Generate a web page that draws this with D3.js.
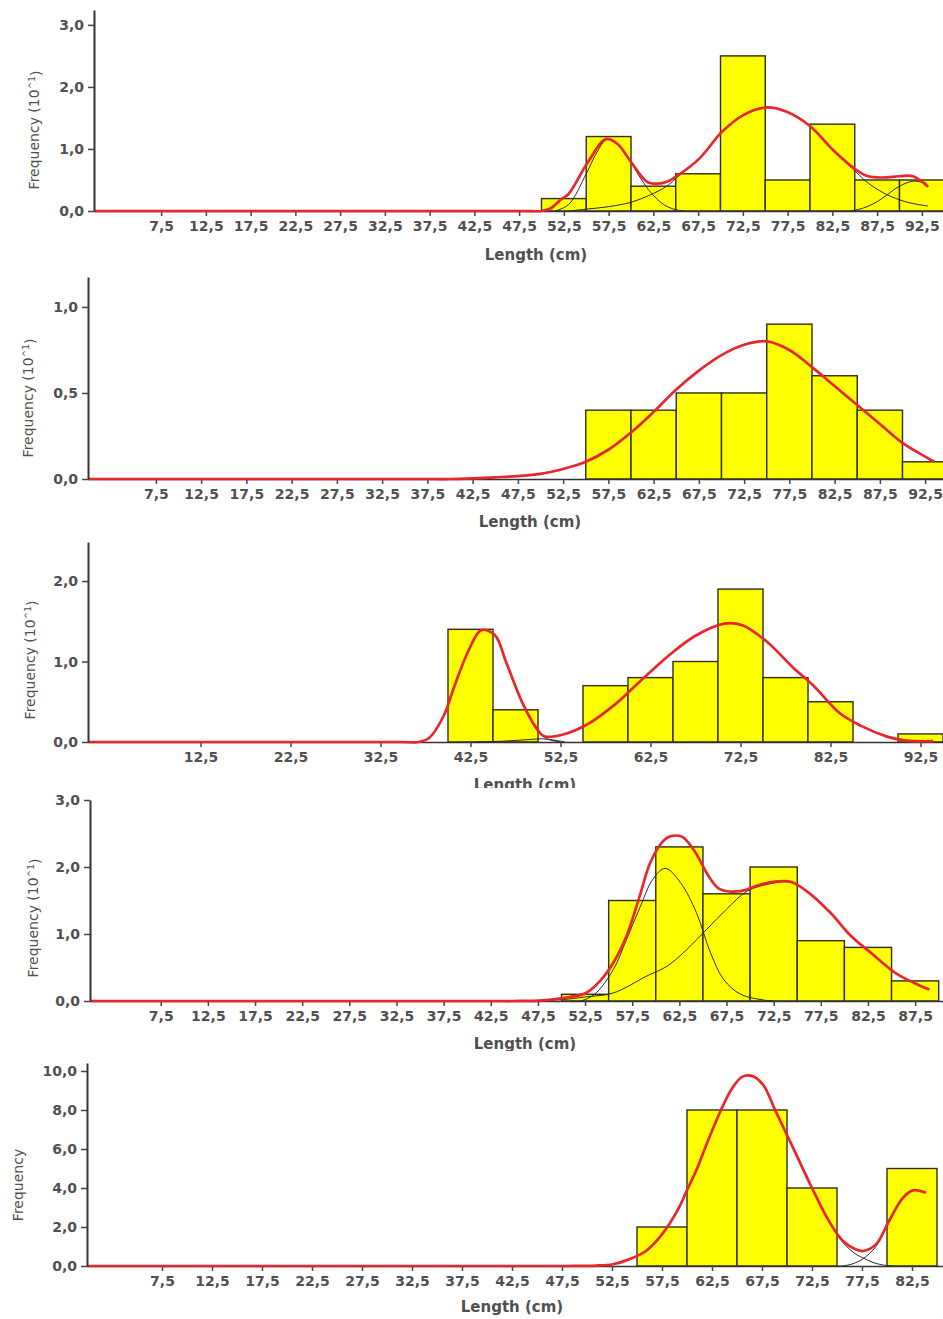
<!DOCTYPE html>
<html lang="en">
<head>
<meta charset="UTF-8">
<title>Length frequency histograms</title>
<script src="https://cdn.jsdelivr.net/npm/d3@7"></script>
<style>
  body { margin: 0; background: #fff; }
  text { font-family: "DejaVu Sans", sans-serif; fill: #505050; font-weight: bold; }
  .tick text { font-size: 14px; }
</style>
</head>
<body>
<svg id="chart" width="943" height="1319"></svg>
<script>
// ---- data (bin centres in cm, bin width 5) ----
const p1Bins = [52.5, 57.5, 62.5, 67.5, 72.5, 77.5, 82.5, 87.5, 92.5];
const p1Freq = [0.2, 1.2, 0.4, 0.6, 2.5, 0.5, 1.4, 0.5, 0.5];
const p1Fit = [[0,0],[25,0],[48,0],[50,0],[51,0.04],[52.2,0.19],[53,0.27],[55.2,0.79],[57.2,1.16],[58.5,1.08],[60,0.79],[61.8,0.47],[63,0.44],[64,0.47],[65.2,0.57],[67.6,0.84],[70.2,1.28],[72.6,1.55],[75.2,1.67],[77.4,1.6],[80,1.37],[82.6,0.98],[85.2,0.66],[86.5,0.56],[88.1,0.54],[90,0.56],[91.5,0.56],[93.2,0.39]];
const p1CompA = [[51.5,0],[53,0.1],[55,0.6],[56.2,0.95],[57.3,1.15],[58.5,1.08],[60,0.78],[61.2,0.5],[62.2,0.3],[63.7,0.1],[65,0.02],[66,0]];
const p1CompB = [[53,0],[55,0.03],[57.5,0.07],[60,0.14],[62,0.25],[64,0.4],[65.2,0.55],[67.6,0.84],[70.2,1.28],[72.6,1.55],[75.2,1.67],[77.4,1.6],[80,1.37],[82.6,0.98],[85.2,0.62],[86.5,0.45],[88.1,0.3],[90,0.18],[91.5,0.12],[93.2,0.08]];
const p1CompC = [[84.5,0],[86,0.05],[87.5,0.15],[88.5,0.25],[90,0.4],[91.5,0.48],[93,0.45]];

const p2Bins = [57.5, 62.5, 67.5, 72.5, 77.5, 82.5, 87.5, 92.5];
const p2Freq = [0.4, 0.4, 0.5, 0.5, 0.9, 0.6, 0.4, 0.1];
const p2Fit = [[0,0],[20,0],[38,0],[40,0],[42.5,0.004],[45,0.01],[47.5,0.017],[50,0.03],[52.5,0.058],[55,0.1],[57.5,0.17],[60,0.27],[62.5,0.39],[65,0.52],[67.5,0.63],[70,0.72],[72.5,0.78],[75,0.8],[77.5,0.75],[80,0.65],[82.5,0.54],[85,0.43],[87.5,0.32],[90,0.21],[92.5,0.13],[93.5,0.1]];

const p3Bins = [42.5, 47.5, 57.5, 62.5, 67.5, 72.5, 77.5, 82.5, 92.5];
const p3Freq = [1.4, 0.4, 0.7, 0.8, 1.0, 1.9, 0.8, 0.5, 0.1];
const p3Fit = [[0,0],[20,0],[35,0],[36.7,0],[37.9,0.05],[39.5,0.32],[40.7,0.69],[42.3,1.14],[43.7,1.39],[45.2,1.33],[46.5,0.98],[48.3,0.48],[49.9,0.16],[50.7,0.07],[52.7,0.09],[55.5,0.22],[58.7,0.48],[61.5,0.77],[64.7,1.09],[67.5,1.32],[70.7,1.47],[72.7,1.45],[75.5,1.24],[78.3,0.93],[80.7,0.69],[83.5,0.36],[85.9,0.2],[88.7,0.07],[90.7,0.02],[93.9,0.01]];
const p3CompA = [[35,0],[36.7,0],[37.9,0.05],[39.5,0.32],[40.7,0.69],[42.3,1.14],[43.7,1.39],[45.2,1.33],[46.5,0.98],[48.3,0.48],[49.9,0.15],[51,0.04],[52.5,0]];
const p3CompB = [[43,0],[46,0.01],[49,0.03],[50.5,0.04],[52,0.02],[53,0]];

const p4Bins = [52.5, 57.5, 62.5, 67.5, 72.5, 77.5, 82.5, 87.5];
const p4Freq = [0.1, 1.5, 2.3, 1.6, 2.0, 0.9, 0.8, 0.3];
const p4Fit = [[0,0],[25,0],[43,0],[45,0],[48,0.01],[50.5,0.05],[52.6,0.12],[54.1,0.3],[55.5,0.57],[56.9,0.97],[58.3,1.57],[59.4,2.06],[60.8,2.39],[61.6,2.46],[62.8,2.45],[64,2.26],[65.8,1.82],[66.8,1.67],[69,1.64],[70.7,1.72],[72.5,1.78],[74.3,1.78],[76,1.64],[78.5,1.32],[80.7,0.97],[82.8,0.72],[85.6,0.4],[87.4,0.27],[89,0.17]];
const p4CompA = [[51,0],[52,0],[53.5,0.1],[55.5,0.47],[56.9,0.92],[58.3,1.39],[59.7,1.82],[61,1.98],[62.6,1.77],[64.3,1.32],[65.8,0.72],[67.2,0.32],[69,0.1],[71.4,0.015],[72.5,0]];
const p4CompB = [[43,0],[45,0],[50,0.02],[52.5,0.06],[55.5,0.12],[59,0.37],[61.2,0.52],[63.3,0.77],[65.4,1.07],[67.5,1.37],[69.7,1.64],[72.5,1.76],[74.3,1.77],[76,1.64],[78.5,1.32],[80.7,0.97],[82.8,0.72],[85.6,0.4],[87.4,0.27],[89,0.17]];

const p5Bins = [57.5, 62.5, 67.5, 72.5, 82.5];
const p5Freq = [2, 8, 8, 4, 5];
const p5Fit = [[0,0],[25,0],[46,0],[48,0],[50.9,0.02],[52.6,0.09],[54.2,0.34],[55.9,0.77],[57.5,1.62],[59.2,2.99],[60,3.9],[60.9,4.87],[62,6.3],[63.4,8.0],[64.5,9.1],[65.5,9.7],[66.5,9.75],[67.6,9.3],[68.9,7.9],[70.6,6.07],[72.5,4.0],[74.2,2.3],[75.6,1.28],[76.9,0.85],[77.6,0.77],[78.9,1.11],[80.2,2.31],[81.6,3.5],[82.6,3.88],[83.9,3.76]];
const p5CompA = [[45,0],[47,0],[50.9,0.02],[52.6,0.09],[54.2,0.34],[55.9,0.77],[57.5,1.62],[59.2,2.99],[60.9,4.87],[62,6.3],[63.4,8.0],[64.5,9.1],[65.5,9.7],[66.5,9.75],[67.6,9.3],[68.9,7.9],[70.6,6.07],[72.5,4.0],[74.2,2.3],[75.6,1.2],[76.9,0.6],[77.6,0.42],[78.5,0.2],[79.5,0.06],[80.5,0]];
const p5CompB = [[75,0],[75.5,0],[76.5,0.1],[77.6,0.37],[78.9,1.0],[80.2,2.25],[81.6,3.5],[82.6,3.88],[83.9,3.76]];

// tick values
const xTicksFine = [7.5,12.5,17.5,22.5,27.5,32.5,37.5,42.5,47.5,52.5,57.5,62.5,67.5,72.5,77.5,82.5,87.5,92.5];
const xTicksCoarse = [12.5,22.5,32.5,42.5,52.5,62.5,72.5,82.5,92.5];
const yTicks1 = [0, 1, 2, 3];
const yTicks2 = [0, 0.5, 1];
const yTicks3 = [0, 1, 2];
const yTicks4 = [0, 1, 2, 3];
const yTicks5 = [0, 2, 4, 6, 8, 10];

// ---- layout ----
const panels = [
  { bins: p1Bins, freq: p1Freq, fit: p1Fit, comps: [p1CompA, p1CompB, p1CompC],
    left: 94, pxCm: 8.95, base: 211, top: 10, yMax: 3.24,
    xTicks: xTicksFine, yTicks: yTicks1, yTitle: "Frequency (10", sup: true,
    titleX: 39, titleY: 130, labelX: 536, labelY: 260 },
  { bins: p2Bins, freq: p2Freq, fit: p2Fit, comps: [p2Fit.filter(d => d[0] >= 40)],
    left: 88, pxCm: 9.05, base: 479, top: 277, yMax: 1.174,
    xTicks: xTicksFine, yTicks: yTicks2, yTitle: "Frequency (10", sup: true,
    titleX: 33, titleY: 398, labelX: 530, labelY: 527 },
  { bins: p3Bins, freq: p3Freq, fit: p3Fit, comps: [p3CompA, p3CompB],
    left: 88, pxCm: 9.0, base: 742, top: 542, yMax: 2.485,
    xTicks: xTicksCoarse, yTicks: yTicks3, yTitle: "Frequency (10", sup: true,
    titleX: 35, titleY: 660, labelX: 525, labelY: 790 },
  { bins: p4Bins, freq: p4Freq, fit: p4Fit, comps: [p4CompA, p4CompB],
    left: 90, pxCm: 9.43, base: 1001, top: 800, yMax: 3.0,
    xTicks: xTicksFine.filter(t => t <= 87.5), yTicks: yTicks4, yTitle: "Frequency (10", sup: true,
    titleX: 38, titleY: 918, labelX: 525, labelY: 1049 },
  { bins: p5Bins, freq: p5Freq, fit: p5Fit, comps: [p5CompA, p5CompB],
    left: 87, pxCm: 10.0, base: 1266, top: 1063, yMax: 10.41,
    xTicks: xTicksFine.filter(t => t <= 82.5), yTicks: yTicks5, yTitle: "Frequency", sup: false,
    titleX: 23, titleY: 1185, labelX: 512, labelY: 1312 }
];

const svg = d3.select("#chart");
const comma = d => d3.format(".1f")(d).replace(".", ",");

panels.forEach(p => {
  const g = svg.append("g");
  // white backdrop so the panel above gets cut like in the source
  g.append("rect").attr("x", 0).attr("y", p.top - 12).attr("width", 943)
    .attr("height", p.base - p.top + 70).attr("fill", "#fff");

  const x = d3.scaleLinear().domain([0, 95]).range([p.left, p.left + 95 * p.pxCm]);
  const y = d3.scaleLinear().domain([0, p.yMax]).range([p.base, p.top]);

  // bars
  g.selectAll("rect.bar").data(p.bins).join("rect")
    .attr("class", "bar")
    .attr("x", d => x(d - 2.5))
    .attr("width", d => x(d + 2.5) - x(d - 2.5))
    .attr("y", (d, i) => y(p.freq[i]))
    .attr("height", (d, i) => y(0) - y(p.freq[i]))
    .attr("fill", "#ffff00")
    .attr("stroke", "#2e2e1a")
    .attr("stroke-width", 1.4);

  // x axis
  const xa = g.append("g").attr("transform", `translate(0,${p.base})`)
    .call(d3.axisBottom(x).tickValues(p.xTicks).tickSize(5).tickSizeOuter(0)
      .tickPadding(5).tickFormat(comma));
  xa.select(".domain").attr("stroke", "#333").attr("stroke-width", 1.5);
  xa.selectAll(".tick line").attr("stroke", "#444").attr("stroke-width", 1.5);

  const line = d3.line().x(d => x(d[0])).y(d => y(d[1]))
    .curve(d3.curveCatmullRom.alpha(0.5));

  // component curves
  p.comps.forEach(c => {
    g.append("path").datum(c).attr("d", line)
      .attr("fill", "none").attr("stroke", "#2a2a2a").attr("stroke-width", 1);
  });

  // fitted total
  g.append("path").datum(p.fit).attr("d", line)
    .attr("fill", "none").attr("stroke", "#e8262c").attr("stroke-width", 2.7)
    .attr("stroke-linejoin", "round");

  // y axis
  const ya = g.append("g").attr("transform", `translate(${p.left},0)`)
    .call(d3.axisLeft(y).tickValues(p.yTicks).tickSize(6).tickSizeOuter(0)
      .tickPadding(4).tickFormat(comma));
  ya.select(".domain").attr("stroke", "#333").attr("stroke-width", 2);
  ya.selectAll(".tick line").attr("stroke", "#444").attr("stroke-width", 1.5);

  // titles
  const t = g.append("text")
    .attr("transform", `translate(${p.titleX},${p.titleY}) rotate(-90)`)
    .attr("text-anchor", "middle")
    .style("font-size", "14px")
    .style("font-weight", "normal")
    .text(p.yTitle);
  if (p.sup) {
    t.append("tspan").attr("dy", "-0.4em").style("font-size", "9px").text("^1");
    t.append("tspan").attr("dy", "0.4em").text(")");
  }

  g.append("text")
    .attr("x", p.labelX).attr("y", p.labelY)
    .attr("text-anchor", "middle")
    .style("font-size", "15px")
    .text("Length (cm)");
});
</script>
</body>
</html>
